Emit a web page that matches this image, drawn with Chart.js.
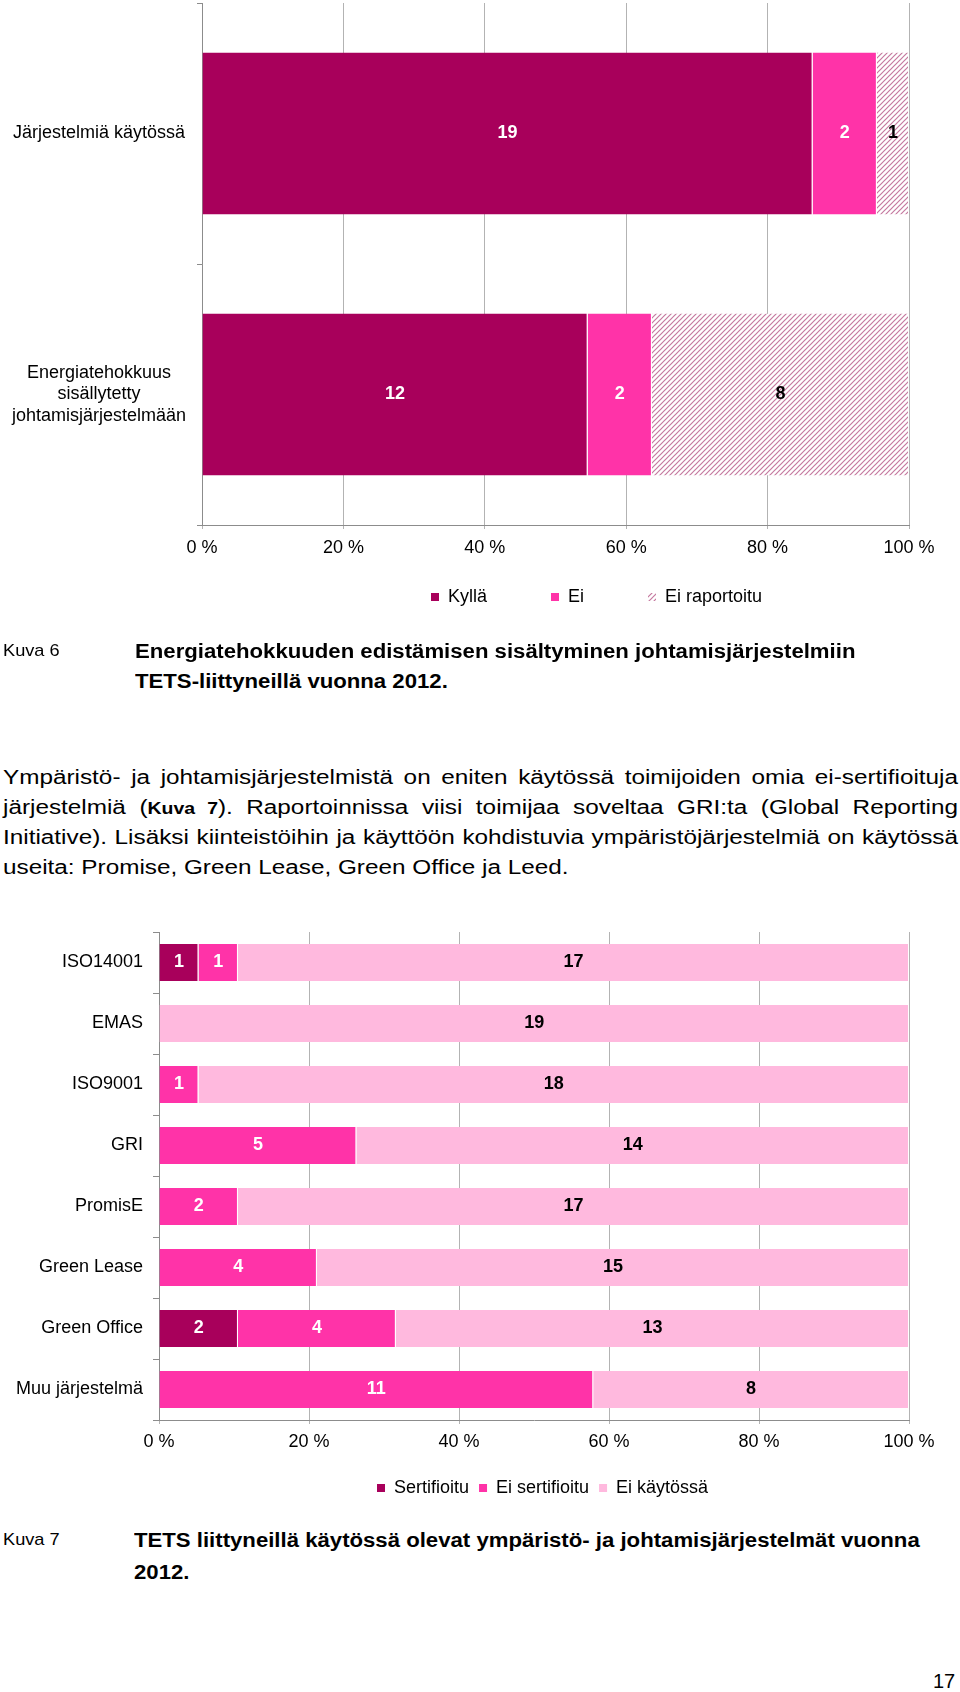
<!DOCTYPE html>
<html><head><meta charset="utf-8">
<script src="https://cdn.jsdelivr.net/npm/chart.js@4.4.1/dist/chart.umd.min.js"></script>
<style>
html,body{margin:0;padding:0;background:#fff;}
body{width:960px;height:1692px;position:relative;overflow:hidden;font-family:'Liberation Sans',Arial,Helvetica,sans-serif;color:#000;}
.abs{position:absolute;white-space:nowrap;transform-origin:0 0;}
canvas{position:absolute;left:0;}
.cap{font-weight:bold;font-size:20px;line-height:24px;height:24px;transform:scaleX(1.108);}
.kuva{font-size:17px;line-height:20px;height:20px;transform:scaleX(1.07);}
.para{position:absolute;left:3px;top:762px;width:786px;font-size:20px;line-height:30px;transform:scaleX(1.215);transform-origin:0 0;}
.para div{height:30px;}
.j{text-align:justify;text-align-last:justify;}
.ref{font-size:16px;}
</style></head><body>
<canvas id="c1" width="960" height="657" style="top:0px"></canvas>
<canvas id="c2" width="960" height="578" style="top:920px"></canvas>

<div class="abs kuva" style="left:3px;top:641px;">Kuva 6</div>
<div class="abs cap" style="left:135px;top:639px;">Energiatehokkuuden edistämisen sisältyminen johtamisjärjestelmiin</div>
<div class="abs cap" style="left:135px;top:669px;">TETS-liittyneillä vuonna 2012.</div>

<div class="para">
<div class="j">Ympäristö- ja johtamisjärjestelmistä on eniten käytössä toimijoiden omia ei-sertifioituja</div>
<div class="j">järjestelmiä (<b class="ref">Kuva 7</b>). Raportoinnissa viisi toimijaa soveltaa GRI:ta (Global Reporting</div>
<div class="j">Initiative). Lisäksi kiinteistöihin ja käyttöön kohdistuvia ympäristöjärjestelmiä on käytössä</div>
<div>useita: Promise, Green Lease, Green Office ja Leed.</div>
</div>

<div class="abs kuva" style="left:3px;top:1530px;">Kuva 7</div>
<div class="abs cap" style="left:134px;top:1528px;">TETS liittyneillä käytössä olevat ympäristö- ja johtamisjärjestelmät vuonna</div>
<div class="abs cap" style="left:134px;top:1560px;">2012.</div>

<div class="abs" style="left:933px;top:1670px;font-size:20px;line-height:22px;">17</div>

<script>
// ---- Data: chart 1 (Kuva 6) ----
const cats1 = [['Järjestelmiä käytössä'], ['Energiatehokkuus', 'sisällytetty', 'johtamisjärjestelmään']];
const kylla = [19, 12];
const ei = [2, 2];
const eiRaportoitu = [1, 8];

// ---- Data: chart 2 (Kuva 7) ----
const cats2 = ['ISO14001', 'EMAS', 'ISO9001', 'GRI', 'PromisE', 'Green Lease', 'Green Office', 'Muu järjestelmä'];
const sertifioitu   = [1, 0, 0, 0, 0, 0, 2, 0];
const eiSertifioitu = [1, 0, 1, 5, 2, 4, 4, 11];
const eiKaytossa    = [17, 19, 18, 14, 17, 15, 13, 8];

// ---- Tick labels ----
const xTicks = [0, 20, 40, 60, 80, 100];

const FONT = "'Liberation Sans', Arial, Helvetica, sans-serif";
Chart.defaults.font.family = FONT;
Chart.defaults.color = '#000';

const C_DARK = '#a8005b';
const C_HOT = '#ff33a8';
const C_LIGHT = '#ffb9de';

function hatch() {
  const s = 5;
  const c = document.createElement('canvas');
  c.width = s; c.height = s;
  const g = c.getContext('2d');
  g.fillStyle = '#ffffff'; g.fillRect(0, 0, s, s);
  g.strokeStyle = '#c5799f'; g.lineWidth = 1.2;
  g.beginPath();
  g.moveTo(0, s); g.lineTo(s, 0);
  g.moveTo(-1, 1); g.lineTo(1, -1);
  g.moveTo(s - 1, s + 1); g.lineTo(s + 1, s - 1);
  g.stroke();
  return g.createPattern(c, 'repeat');
}

function shares(series, all) {
  return series.map((v, i) => v / all.reduce((s, a) => s + a[i], 0) * 100);
}

const valueLabels = {
  id: 'valueLabels',
  afterDatasetsDraw(chart) {
    const ctx = chart.ctx;
    chart.data.datasets.forEach((ds, di) => {
      const meta = chart.getDatasetMeta(di);
      meta.data.forEach((el, i) => {
        const v = ds.counts[i];
        if (!v) return;
        const p = el.getProps(['x', 'y', 'base'], true);
        ctx.save();
        ctx.font = 'bold 18px ' + FONT;
        ctx.fillStyle = ds.labelColor;
        ctx.textAlign = 'center';
        ctx.textBaseline = 'middle';
        ctx.fillText(String(v), (p.x + p.base) / 2, p.y);
        ctx.restore();
      });
    });
  }
};

const legendPlace = {
  id: 'legendPlace',
  afterLayout(chart, args, opts) {
    const lg = chart.legend;
    if (!lg) return;
    const pad = lg.options.labels.padding;
    const itemH = 18;
    const left = opts.x - pad;
    const top = opts.y - pad - itemH / 2;
    const w = lg.width, h = lg.height;
    lg.left = left; lg.right = left + w;
    lg.top = top; lg.bottom = top + h;
  }
};

function genLabels(chart) {
  const items = Chart.defaults.plugins.legend.labels.generateLabels(chart);
  items.forEach(it => { it.lineWidth = 0; it.strokeStyle = 'rgba(0,0,0,0)'; });
  return items;
}

function xScale(pad) {
  return {
    stacked: true, min: 0, max: 100,
    grid: { color: '#b3b3b3', lineWidth: 1, drawTicks: true, tickLength: 4 },
    border: { display: true, color: '#8c8c8c', width: 1 },
    ticks: { padding: pad, font: { size: 18 }, maxRotation: 0, autoSkip: false, callback: v => v + ' %' },
    afterBuildTicks(s) { s.ticks = xTicks.map(v => ({ value: v })); },
    afterFit(s) { s.height = 40; }
  };
}

function yScale(width, tickLen, pad, align) {
  return {
    stacked: true,
    grid: { drawOnChartArea: false, drawTicks: true, tickLength: tickLen, color: '#8c8c8c', offset: true },
    border: { display: true, color: '#8c8c8c', width: 1 },
    ticks: { padding: pad, font: { size: 18, lineHeight: 1.17 }, crossAlign: align, autoSkip: false },
    afterFit(s) { s.width = width; s.paddingTop = 0; s.paddingBottom = 0; }
  };
}

const all1 = [kylla, ei, eiRaportoitu];
new Chart(document.getElementById('c1'), {
  type: 'bar',
  data: {
    labels: cats1,
    datasets: [
      { label: 'Kyllä', data: shares(kylla, all1), counts: kylla, backgroundColor: C_DARK, labelColor: '#fff' },
      { label: 'Ei', data: shares(ei, all1), counts: ei, backgroundColor: C_HOT, labelColor: '#fff' },
      { label: 'Ei raportoitu', data: shares(eiRaportoitu, all1), counts: eiRaportoitu, backgroundColor: hatch(), labelColor: '#000' }
    ].map(d => Object.assign(d, { borderColor: '#fff', borderWidth: { right: 1, left: 0, top: 0, bottom: 0 }, barPercentage: 0.62, categoryPercentage: 1 }))
  },
  options: {
    indexAxis: 'y', responsive: false, animation: false, devicePixelRatio: 1,
    layout: { padding: { top: 3, right: 51, left: 0, bottom: 0 } },
    scales: { x: xScale(8), y: yScale(202, 5, 11, 'center') },
    plugins: {
      tooltip: { enabled: false },
      legend: { position: 'bottom', align: 'start', labels: { boxWidth: 8, boxHeight: 8, padding: 64, font: { size: 18 }, color: '#000', generateLabels: genLabels } },
      legendPlace: { x: 431, y: 597 }
    }
  },
  plugins: [valueLabels, legendPlace]
});

const all2 = [sertifioitu, eiSertifioitu, eiKaytossa];
new Chart(document.getElementById('c2'), {
  type: 'bar',
  data: {
    labels: cats2,
    datasets: [
      { label: 'Sertifioitu', data: shares(sertifioitu, all2), counts: sertifioitu, backgroundColor: C_DARK, labelColor: '#fff' },
      { label: 'Ei sertifioitu', data: shares(eiSertifioitu, all2), counts: eiSertifioitu, backgroundColor: C_HOT, labelColor: '#fff' },
      { label: 'Ei käytössä', data: shares(eiKaytossa, all2), counts: eiKaytossa, backgroundColor: C_LIGHT, labelColor: '#000' }
    ].map(d => Object.assign(d, { borderColor: '#fff', borderWidth: { right: 1, left: 0, top: 0, bottom: 0 }, barPercentage: 0.61, categoryPercentage: 1 }))
  },
  options: {
    indexAxis: 'y', responsive: false, animation: false, devicePixelRatio: 1,
    layout: { padding: { top: 12, right: 51, left: 0, bottom: 0 } },
    scales: { x: xScale(7), y: yScale(159, 6, 10, 'near') },
    plugins: {
      tooltip: { enabled: false },
      legend: { position: 'bottom', align: 'start', labels: { boxWidth: 8, boxHeight: 8, padding: 10, font: { size: 18 }, color: '#000', generateLabels: genLabels } },
      legendPlace: { x: 377, y: 568 }
    }
  },
  plugins: [valueLabels, legendPlace]
});
</script>
</body></html>
